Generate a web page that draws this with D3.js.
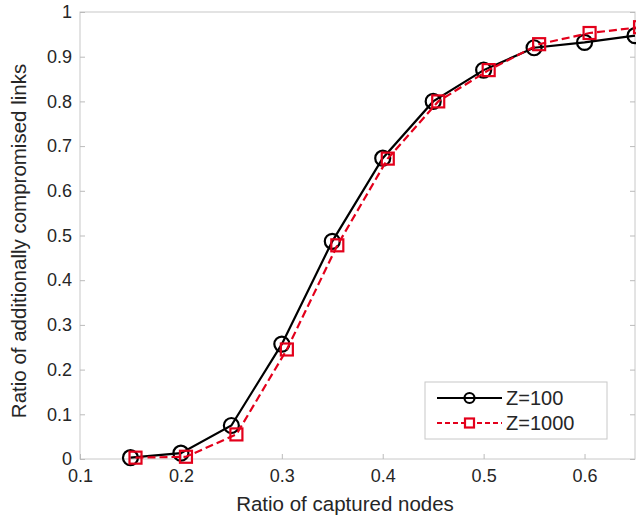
<!DOCTYPE html>
<html>
<head>
<meta charset="utf-8">
<script src="https://cdn.jsdelivr.net/npm/d3@7"></script>
<style>
  body { margin: 0; background: #fff; }
  svg { font-family: "Liberation Sans", Arial, sans-serif; }
</style>
</head>
<body>
<div id="chart"></div>
<script>
// data
const xZ100 = [0.15, 0.2, 0.25, 0.3, 0.35, 0.4, 0.45, 0.5, 0.55, 0.6, 0.65];
const yZ100 = [0.003, 0.013, 0.075, 0.257, 0.487, 0.673, 0.80, 0.87, 0.92, 0.932, 0.947];
const xZ1000 = [0.155, 0.205, 0.255, 0.305, 0.355, 0.405, 0.455, 0.505, 0.555, 0.605, 0.655];
const yZ1000 = [0.003, 0.005, 0.055, 0.245, 0.478, 0.672, 0.80, 0.87, 0.928, 0.953, 0.966];
const xTicks = [0.1, 0.2, 0.3, 0.4, 0.5, 0.6];
const yTicks = [0, 0.1, 0.2, 0.3, 0.4, 0.5, 0.6, 0.7, 0.8, 0.9, 1];
const seriesNames = ["Z=100", "Z=1000"];

const width = 636, height = 519;
const plotL = 80, plotR = 635, plotT = 12, plotB = 459;

const svg = d3.select("#chart").append("svg")
    .attr("width", width).attr("height", height);

const x = d3.scaleLinear().domain([0.1, 0.65]).range([plotL, plotR]);
const y = d3.scaleLinear().domain([0, 1]).range([plotB, plotT]);

// box
svg.append("rect")
    .attr("x", plotL).attr("y", plotT)
    .attr("width", plotR - plotL).attr("height", plotB - plotT)
    .style("fill", "none").style("stroke", "#c8c8c8").style("stroke-width", 1);

const xAxis = svg.append("g")
    .attr("transform", "translate(0," + plotB + ")")
    .call(d3.axisBottom(x).tickValues(xTicks).tickSize(-5).tickPadding(10).tickFormat(d3.format("")));
const yAxis = svg.append("g")
    .attr("transform", "translate(" + plotL + ",0)")
    .call(d3.axisLeft(y).tickValues(yTicks).tickSize(-5).tickPadding(8).tickFormat(d3.format("")));

[xAxis, yAxis].forEach(a => {
  a.select(".domain").remove();
  a.selectAll(".tick line").style("stroke", "#bbb");
  a.selectAll(".tick text").style("font-size", "18px").style("fill", "#262626");
});
// right-side ticks
svg.append("g").attr("transform", "translate(" + plotR + ",0)")
    .call(d3.axisRight(y).tickValues(yTicks).tickSize(-5).tickFormat(""))
    .call(g => { g.select(".domain").remove(); g.selectAll(".tick line").style("stroke", "#bbb"); });

svg.append("text")
    .attr("x", 345).attr("y", 511)
    .attr("text-anchor", "middle")
    .style("font-size", "20.5px").style("fill", "#262626")
    .text("Ratio of captured nodes");
svg.append("text")
    .attr("transform", "translate(26,241) rotate(-90)")
    .attr("text-anchor", "middle")
    .style("font-size", "20.5px").style("fill", "#262626")
    .text("Ratio of additionally compromised links");

const line = d3.line().x(d => x(d[0])).y(d => y(d[1]));
const d100 = xZ100.map((v, i) => [v, yZ100[i]]);
const d1000 = xZ1000.map((v, i) => [v, yZ1000[i]]);

svg.append("path").datum(d100).attr("d", line)
    .style("fill", "none").style("stroke", "#000").style("stroke-width", 2.2);
svg.selectAll(".c100").data(d100).enter().append("circle")
    .attr("cx", d => x(d[0])).attr("cy", d => y(d[1])).attr("r", 7.5)
    .style("fill", "none").style("stroke", "#000").style("stroke-width", 2.2);

svg.append("path").datum(d1000).attr("d", line)
    .style("fill", "none").style("stroke", "#e3001b").style("stroke-width", 2.2)
    .style("stroke-dasharray", "8,4");
svg.selectAll(".s1000").data(d1000).enter().append("rect")
    .attr("x", d => x(d[0]) - 6).attr("y", d => y(d[1]) - 6)
    .attr("width", 12).attr("height", 12)
    .style("fill", "none").style("stroke", "#e3001b").style("stroke-width", 2.2);

// legend
const lg = svg.append("g");
lg.append("rect").attr("x", 425).attr("y", 382).attr("width", 182).attr("height", 57)
    .style("fill", "#fff").style("stroke", "#c8c8c8");
lg.append("line").attr("x1", 437).attr("x2", 502).attr("y1", 398).attr("y2", 398)
    .style("stroke", "#000").style("stroke-width", 2.2);
lg.append("circle").attr("cx", 469.5).attr("cy", 398).attr("r", 5)
    .style("fill", "none").style("stroke", "#000").style("stroke-width", 2.2);
lg.append("line").attr("x1", 437).attr("x2", 502).attr("y1", 423).attr("y2", 423)
    .style("stroke", "#e3001b").style("stroke-width", 2).style("stroke-dasharray", "5,3");
lg.append("rect").attr("x", 465).attr("y", 418.5).attr("width", 9).attr("height", 9)
    .style("fill", "#fff").style("stroke", "#e3001b").style("stroke-width", 2.2);
lg.selectAll(".lt").data(seriesNames).enter().append("text")
    .attr("x", 506).attr("y", (d, i) => 405 + i * 25)
    .style("font-size", "20px").style("fill", "#262626")
    .text(d => d);
</script>
</body>
</html>
